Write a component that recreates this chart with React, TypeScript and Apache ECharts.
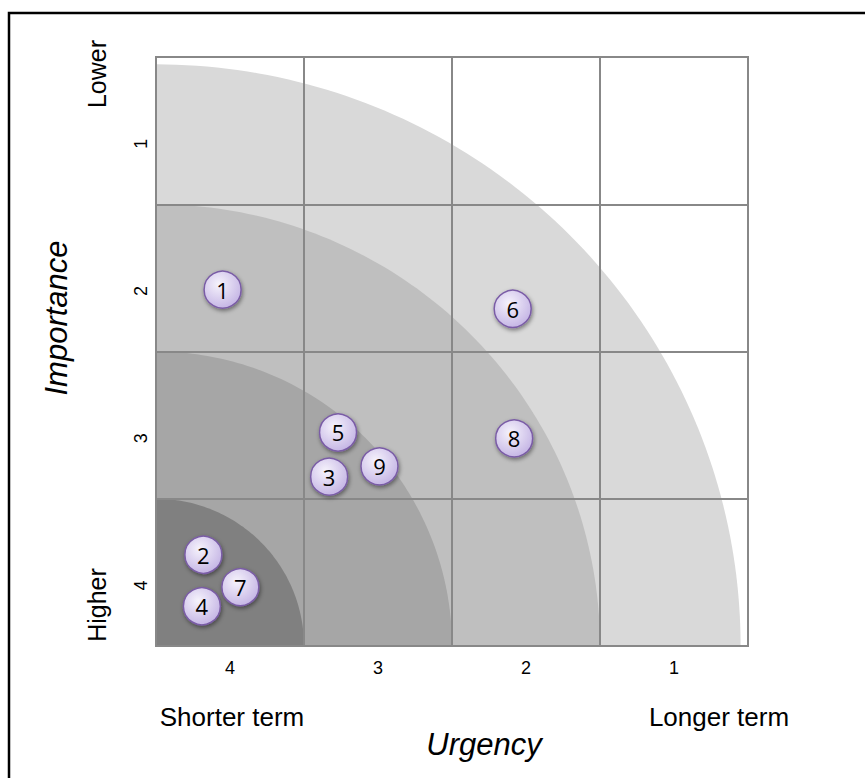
import React, { useEffect, useRef } from "react";
import * as echarts from "echarts";

// Category tick labels
const urgencyTicks = ["4", "3", "2", "1"];
const importanceTicks = ["1", "2", "3", "4"];

// Bubbles
const ids = ["1", "2", "3", "4", "5", "6", "7", "8", "9"];
const urgency = [4.05, 4.18, 3.33, 4.19, 3.27, 2.09, 3.93, 2.08, 2.99];
const importance = [2.08, 3.88, 3.35, 4.23, 3.05, 2.21, 4.1, 3.09, 3.28];

// Quarter-circle bands (radius in axis units from the "4,4" corner)
const bandRadii = [3.95, 3, 2, 1];
const bandColors = ["#d9d9d9", "#bfbfbf", "#a6a6a6", "#808080"];

export default function App() {
  const ref = useRef<HTMLDivElement>(null);

  useEffect(() => {
    document.body.style.margin = "0";
    const chart = echarts.init(ref.current!, null, { renderer: "svg" });
    const font = "'Liberation Sans', Arial, sans-serif";
    const option: any = {
      animation: false,
      backgroundColor: "#ffffff",
      grid: {
        left: 156,
        right: 117,
        top: 57,
        bottom: 132,
        show: true,
        borderColor: "#888888",
        borderWidth: 2,
        backgroundColor: "#ffffff",
      },
      xAxis: [
        { type: "value", min: 0.5, max: 4.5, inverse: true, show: false },
        {
          type: "category",
          data: urgencyTicks,
          position: "bottom",
          boundaryGap: true,
          z: 3,
          axisLine: { show: true, lineStyle: { color: "#888888", width: 2 } },
          axisTick: { show: false },
          splitLine: { show: true, lineStyle: { color: "#888888", width: 2 } },
          axisLabel: { color: "#000", fontSize: 18, fontFamily: font, margin: 13 },
        },
      ],
      yAxis: [
        { type: "value", min: 0.5, max: 4.5, inverse: true, show: false },
        {
          type: "category",
          data: importanceTicks,
          inverse: true,
          position: "left",
          boundaryGap: true,
          z: 3,
          axisLine: { show: true, lineStyle: { color: "#888888", width: 2 } },
          axisTick: { show: false },
          splitLine: { show: true, lineStyle: { color: "#888888", width: 2 } },
          axisLabel: {
            color: "#000",
            fontSize: 18,
            fontFamily: font,
            margin: 6,
            rotate: 90,
            align: "right",
            padding: [0, 8, 0, 0],
          },
        },
      ],
      series: [
        {
          type: "custom",
          xAxisIndex: 0,
          yAxisIndex: 0,
          z: 1,
          silent: true,
          data: bandRadii.map((r) => [4.5, 4.5, r]),
          renderItem: (params: any, api: any) => {
            const cx = api.value(0);
            const cy = api.value(1);
            const r = api.value(2);
            const pts: number[][] = [api.coord([cx, cy])];
            const n = 90;
            for (let i = 0; i <= n; i++) {
              const t = (i / n) * (Math.PI / 2);
              pts.push(api.coord([cx - r * Math.cos(t), cy - r * Math.sin(t)]));
            }
            return {
              type: "polygon",
              shape: { points: pts },
              style: { fill: bandColors[params.dataIndex], stroke: null },
            };
          },
        },
        {
          type: "scatter",
          xAxisIndex: 0,
          yAxisIndex: 0,
          z: 5,
          symbol: "circle",
          symbolSize: 37,
          data: ids.map((id, i) => ({ name: id, value: [urgency[i], importance[i]] })),
          itemStyle: {
            color: {
              type: "radial",
              x: 0.4,
              y: 0.35,
              r: 0.75,
              colorStops: [
                { offset: 0, color: "#f6f3fc" },
                { offset: 1, color: "#bfaee2" },
              ],
            },
            borderColor: "#7a5ca6",
            borderWidth: 1.5,
            opacity: 1,
            shadowBlur: 4,
            shadowOffsetX: 1,
            shadowOffsetY: 2,
            shadowColor: "rgba(0,0,0,0.45)",
          },
          label: {
            show: true,
            position: "inside",
            formatter: (p: any) => p.name,
            color: "#000",
            fontSize: 22,
            fontFamily: "'Open Sans', 'Noto Sans', sans-serif",
          },
        },
      ],
      graphic: [
        {
          type: "rect",
          shape: { x: 9, y: 13, width: 1000, height: 1000 },
          style: { fill: null, stroke: "#000", lineWidth: 2.5 },
          z: 10,
          silent: true,
        },
        {
          type: "text",
          x: 97,
          y: 74,
          rotation: Math.PI / 2,
          style: { text: "Lower", fontSize: 25, fontFamily: font, fill: "#000", align: "center", verticalAlign: "middle" },
        },
        {
          type: "text",
          x: 97,
          y: 605,
          rotation: Math.PI / 2,
          style: { text: "Higher", fontSize: 25, fontFamily: font, fill: "#000", align: "center", verticalAlign: "middle" },
        },
        {
          type: "text",
          x: 56,
          y: 318,
          rotation: Math.PI / 2,
          style: { text: "Importance", fontSize: 31, fontStyle: "italic", fontFamily: font, fill: "#000", align: "center", verticalAlign: "middle" },
        },
        {
          type: "text",
          x: 232,
          y: 717,
          style: { text: "Shorter term", fontSize: 26, fontFamily: font, fill: "#000", align: "center", verticalAlign: "middle" },
        },
        {
          type: "text",
          x: 719,
          y: 717,
          style: { text: "Longer term", fontSize: 26, fontFamily: font, fill: "#000", align: "center", verticalAlign: "middle" },
        },
        {
          type: "text",
          x: 484,
          y: 744,
          style: { text: "Urgency", fontSize: 31, fontStyle: "italic", fontFamily: font, fill: "#000", align: "center", verticalAlign: "middle" },
        },
      ],
    };
    chart.setOption(option);
    return () => chart.dispose();
  }, []);

  return <div ref={ref} style={{ width: 865, height: 778 }} />;
}
